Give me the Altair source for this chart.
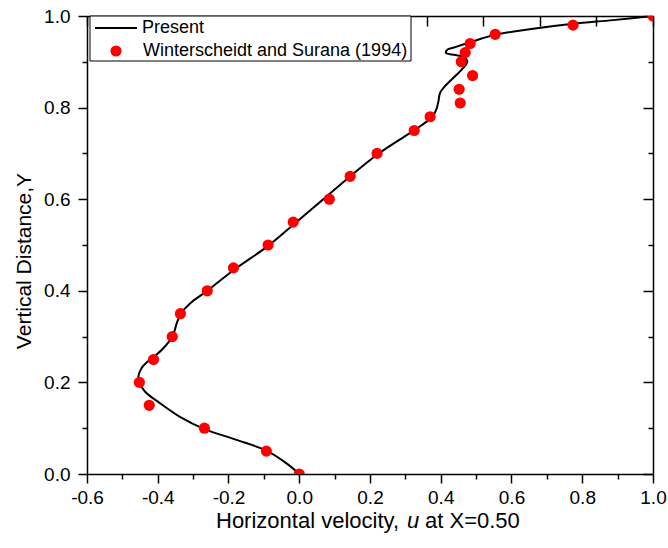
import altair as alt
import pandas as pd

FONT = "Liberation Sans"

# ---- data ----
# Winterscheidt and Surana (1994) symbols
PTS_U = [0.0, -0.093, -0.268, -0.424, -0.452, -0.412, -0.359, -0.336, -0.260, -0.186,
         -0.088, -0.017, 0.085, 0.144, 0.220, 0.325, 0.370, 0.455, 0.452, 0.490,
         0.458, 0.469, 0.483, 0.554, 0.774, 1.0]
PTS_Y = [0.0, 0.05, 0.10, 0.15, 0.20, 0.25, 0.30, 0.35, 0.40, 0.45,
         0.50, 0.55, 0.60, 0.65, 0.70, 0.75, 0.78, 0.81, 0.84, 0.87,
         0.90, 0.92, 0.94, 0.96, 0.98, 1.0]

# Present solution (line)
LINE_U = [0.0, -0.034, -0.090, -0.175, -0.268, -0.336, -0.398, -0.435, -0.452, -0.455,
          -0.446, -0.429, -0.407, -0.379, -0.359, -0.345, -0.333, -0.308, -0.260, -0.186,
          -0.088, -0.011, 0.065, 0.141, 0.220, 0.308, 0.347, 0.376, 0.387, 0.393,
          0.398, 0.412, 0.441, 0.463, 0.475, 0.466, 0.441, 0.415, 0.418, 0.441,
          0.477, 0.554, 0.661, 0.774, 0.887, 1.0]
LINE_Y = [0.0, 0.022, 0.050, 0.074, 0.098, 0.124, 0.157, 0.179, 0.199, 0.212,
          0.231, 0.245, 0.258, 0.279, 0.299, 0.332, 0.352, 0.373, 0.400, 0.445,
          0.498, 0.548, 0.598, 0.648, 0.697, 0.742, 0.762, 0.780, 0.795, 0.812,
          0.832, 0.847, 0.869, 0.886, 0.900, 0.910, 0.915, 0.919, 0.926, 0.932,
          0.941, 0.959, 0.972, 0.983, 0.991, 1.0]

X_TICKS = [-0.6, -0.5, -0.4, -0.3, -0.2, -0.1, 0.0, 0.1, 0.2, 0.3, 0.4, 0.5, 0.6, 0.7, 0.8, 0.9, 1.0]
Y_TICKS = [0.0, 0.1, 0.2, 0.3, 0.4, 0.5, 0.6, 0.7, 0.8, 0.9, 1.0]
TOP_TICKS = [-0.6, -0.44, -0.28, -0.12, 0.04, 0.2, 0.36, 0.52, 0.68, 0.84, 1.0]

LEGEND_LABELS = ["Present", "Winterscheidt and Surana (1994)"]
X_TITLE_PARTS = ["Horizontal velocity,", "u", "at X=0.50"]
Y_TITLE = "Vertical Distance,Y"

# ---- chart ----
W, H = 566, 458
line_df = pd.DataFrame({"u": LINE_U, "Y": LINE_Y, "i": list(range(len(LINE_U)))})
pts_df = pd.DataFrame({"u": PTS_U, "Y": PTS_Y})
dummy = pd.DataFrame({"k": [0]})

xscale = alt.Scale(domain=[-0.6, 1.0], nice=False, zero=False)
yscale = alt.Scale(domain=[0.0, 1.0], nice=False, zero=False)

MAJ = "abs(round(datum.value*10))%2==0"
LAB = MAJ + " ? replace(format(datum.value, '.1f'), '\u2212', '-') : ''"

common = dict(grid=False, domainColor="black", domainWidth=1.5, tickColor="black",
              tickWidth=1.5, labelFont=FONT, labelFontSize=19, labelColor="black",
              title=None, labelOverlap=False, labelFlush=False)

x_bottom = alt.Axis(orient="bottom", values=X_TICKS, tickSize={"expr": MAJ + " ? 9 : 5"},
                    labelExpr=LAB, labelPadding=5, **common)
y_left = alt.Axis(orient="left", values=Y_TICKS, tickSize={"expr": MAJ + " ? 9 : 5"},
                  labelExpr=LAB, labelPadding=8, **common)
x_top = alt.Axis(orient="top", values=TOP_TICKS, tickSize={"expr": "-10"}, labels=False, **common)
y_right = alt.Axis(orient="right", values=Y_TICKS, tickSize={"expr": "-(" + MAJ + " ? 10 : 5)"},
                   labels=False, **common)

line = alt.Chart(line_df).mark_line(color="black", strokeWidth=2, interpolate="catmull-rom",
                                    clip=True).encode(
    x=alt.X("u:Q", scale=xscale, axis=x_bottom),
    y=alt.Y("Y:Q", scale=yscale, axis=y_left),
    order=alt.Order("i:Q"),
)

pts = alt.Chart(pts_df).mark_circle(color="#FF0000", opacity=1, size=125, clip=True).encode(
    x=alt.X("u:Q", scale=xscale, axis=x_top),
    y=alt.Y("Y:Q", scale=yscale, axis=y_right),
)


def txt(text, x, y, size, **kw):
    return alt.Chart(dummy).mark_text(text=text, font=FONT, fontSize=size, color="black",
                                      baseline="middle", **kw).encode(
        x=alt.value(x), y=alt.value(y))


leg_box = alt.Chart(dummy).mark_rect(fill="white", stroke="black", strokeWidth=1).encode(
    x=alt.value(3), x2=alt.value(324), y=alt.value(0), y2=alt.value(45))
leg_line = alt.Chart(dummy).mark_rule(color="black", strokeWidth=2).encode(
    x=alt.value(8), x2=alt.value(50), y=alt.value(12))
leg_dot = alt.Chart(dummy).mark_circle(color="#FF0000", opacity=1, size=125).encode(
    x=alt.value(29), y=alt.value(35))

layers = [
    line, pts, leg_box, leg_line, leg_dot,
    txt(LEGEND_LABELS[0], 55, 12, 18, align="left"),
    txt(LEGEND_LABELS[1], 56, 35, 18, align="left"),
    txt(X_TITLE_PARTS[0], 129, 505, 22, align="left"),
    txt(X_TITLE_PARTS[1], 320, 505, 22, align="left", fontStyle="italic"),
    txt(X_TITLE_PARTS[2], 338, 505, 22, align="left"),
    txt(Y_TITLE, -62, 245, 21, align="center", angle=270),
]

chart = alt.layer(*layers).resolve_axis(x="independent", y="independent").properties(
    width=W, height=H,
    autosize=alt.AutoSizeParams(type="none"),
    padding={"left": 87, "top": 16, "right": 15, "bottom": 74},
).configure_view(stroke=None).configure(background="white")

chart.save("out.html", embed_options={"renderer": "svg", "actions": False})
